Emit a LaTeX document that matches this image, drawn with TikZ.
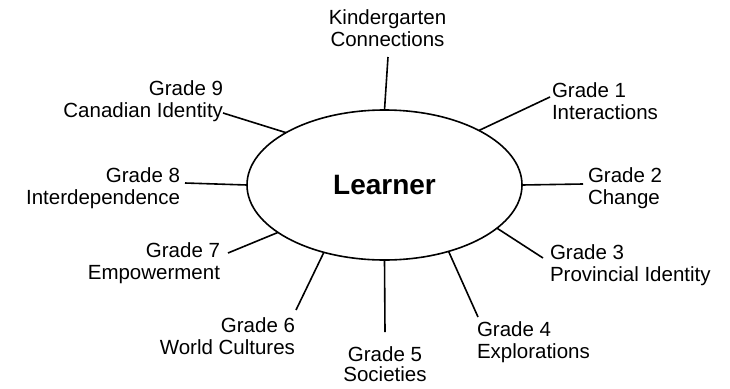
\documentclass[tikz,border=0pt]{standalone}
\usepackage{fontspec}
\setmainfont{Liberation Sans}
\usetikzlibrary{shapes.geometric}
\begin{document}
\begin{tikzpicture}[x=1pt,y=-1pt,
  lbl/.style={inner sep=0pt, outer sep=0pt, font=\fontsize{20.5}{21.5}\selectfont},
  lblL/.style={lbl, anchor=north west, align=left},
  lblR/.style={lbl, anchor=north east, align=right},
  lblC/.style={lbl, anchor=north, align=center},
  spoke/.style={line width=1.6pt},
  hub/.style={ellipse, draw, line width=1.6pt, minimum width=275pt, minimum height=150pt, inner sep=0pt, outer sep=0pt, font=\fontsize{28}{30}\selectfont\bfseries}]
\useasboundingbox (0,0) rectangle (730,388);
\node[hub] (L) at (384.5,185) {Learner};
% labels
\node[lblC] (k)  at (387.5,10) {Kindergarten\\Connections};
\node[lblL] (g1) at (552,83)  {Grade 1\\Interactions};
\node[lblL] (g2) at (588,168) {Grade 2\\Change};
\node[lblL] (g3) at (550,245) {Grade 3\\Provincial Identity};
\node[lblL] (g4) at (477,322) {Grade 4\\Explorations};
\node[lblC, font=\fontsize{20.5}{20}\selectfont] (g5) at (385,347) {Grade 5\\Societies};
\node[lblR] (g6) at (295,318) {Grade 6\\World Cultures};
\node[lblR] (g7) at (220,243) {Grade 7\\Empowerment};
\node[lblR] (g8) at (180,168) {Grade 8\\Interdependence};
\node[lblR] (g9) at (223,81)  {Grade 9\\Canadian Identity};
% spoke ends
\coordinate (ek) at (388,57);
\coordinate (e1) at (550,97);
\coordinate (e2) at (583,184);
\coordinate (e3) at (543,258);
\coordinate (e4) at (478,317);
\coordinate (e5) at (385,332);
\coordinate (e6) at (296,310);
\coordinate (e7) at (228,253);
\coordinate (e8) at (185,183);
\coordinate (e9) at (223,113);
\draw[spoke] (L.90) -- (ek);
\draw[spoke] (L.30) -- (e1);
\draw[spoke] (L.0) -- (e2);
\draw[spoke] (L.-21) -- (e3);
\draw[spoke] (L.-46) -- (e4);
\draw[spoke] (L.-90) -- (e5);
\draw[spoke] (L.-132) -- (e6);
\draw[spoke] (L.-156) -- (e7);
\draw[spoke] (L.180) -- (e8);
\draw[spoke] (L.152) -- (e9);
\end{tikzpicture}
\end{document}
